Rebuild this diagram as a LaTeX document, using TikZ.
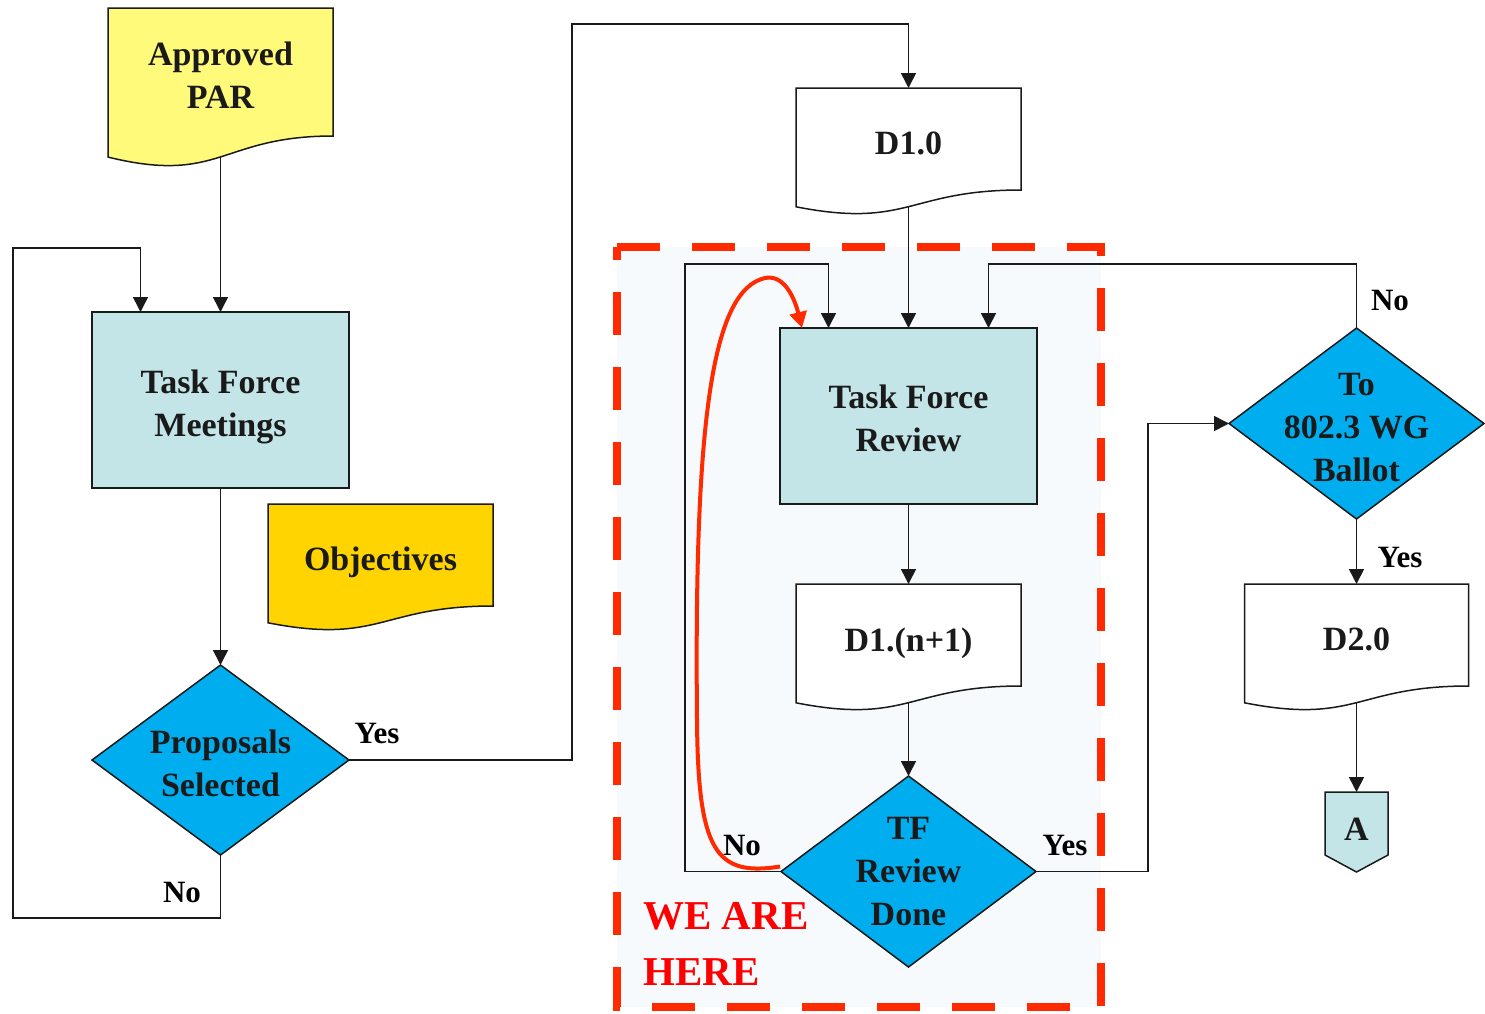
\documentclass[tikz,border=0pt]{standalone}
\usepackage{fontspec}
\setmainfont{Liberation Serif}
\usetikzlibrary{arrows.meta,calc}
\definecolor{parY}{HTML}{FFFA7A}
\definecolor{objY}{HTML}{FFD400}
\definecolor{tfteal}{HTML}{C4E5E8}
\definecolor{dblue}{HTML}{00AEEF}
\definecolor{hred}{HTML}{FF2A00}
\definecolor{hereRed}{HTML}{FF0000}
\definecolor{bgpale}{HTML}{F6FAFC}
\definecolor{ink}{HTML}{1A1A1A}
\newcommand\docshape[6]{% name, x0, ytop, W, h, fill
  \path[draw=ink, line width=1.5pt, fill=#6] (#2,#3) -- (#2+#4,#3) -- (#2+#4,#3+#5)
    .. controls (#2+0.5*#4,#3+#5) and (#2+0.5*#4,#3+1.381*#5) .. (#2,#3+1.1646*#5) -- cycle;
  \coordinate (#1-w) at (#2+0.5*#4,#3+1.1635*#5);}
\newcommand\diamshape[5]{% cx, cy, W, H, fill
  \path[draw=ink, line width=1.5pt, fill=#5] (#1-0.5*#3,#2) -- (#1,#2-0.5*#4) -- (#1+0.5*#3,#2) -- (#1,#2+0.5*#4) -- cycle;}
\newcommand\lowr[1]{\rule{0pt}{#1pt}}
\tikzset{
  lbl/.style={font=\bfseries\fontsize{34}{43}\selectfont, text=ink, align=center, inner sep=0pt, outer sep=0pt},
  sized/.style 2 args={minimum width=#1pt, minimum height=#2pt},
  procbox/.style={lbl, draw=ink, line width=1.5pt, fill=tfteal, minimum width=257pt, minimum height=176pt},
  conn/.style={draw=ink, line width=1.5pt, -{Triangle[width=15pt,length=15pt]}},
  ans/.style={font=\bfseries\fontsize{31}{36}\selectfont, text=black, inner sep=0pt},
}
\begin{document}
\begin{tikzpicture}[x=1pt,y=-1pt]
\useasboundingbox (0,0) rectangle (1485,1013);
% highlighted region
\fill[bgpale] (617,247) rectangle (1101,1007);
\draw[hred, line width=8pt, dash pattern=on 43pt off 32pt] (617,247) -- (1101,247) -- (1101,1007) -- (617,1007) -- cycle;
% shapes
\docshape{par}{108}{8}{225}{128}{parY}
\docshape{obj}{268}{504}{225}{102}{objY}
\docshape{d10}{796}{88}{225}{102}{white}
\docshape{d1n}{796}{584}{225}{102}{white}
\docshape{d20}{1244.5}{584}{224}{102}{white}
\diamshape{220.5}{760}{257}{190}{dblue}
\diamshape{908.5}{871.5}{255}{191}{dblue}
\diamshape{1356.5}{423.5}{255}{191}{dblue}
\path[draw=ink, line width=1.5pt, fill=tfteal] (1325,792) -- (1388,792) -- (1388,855) -- (1356.5,872) -- (1325,855) -- cycle;
% nodes
\node[lbl, sized={225}{128}] (par) at (220.5,72) {\lowr{29}Approved\\PAR};
\node[procbox] (tfm) at (220.5,400) {\lowr{37}Task Force\\Meetings};
\node[lbl, sized={225}{102}] (obj) at (380.5,555) {\lowr{39}Objectives};
\node[lbl, sized={257}{190}] (ps) at (220.5,760) {\lowr{30}Proposals\\Selected};
\node[lbl, sized={225}{102}] (d10) at (908.5,139) {\lowr{31}D1.0};
\node[procbox] (tfr) at (908.5,416) {\lowr{29}Task Force\\Review};
\node[lbl, sized={225}{102}] (d1n) at (908.5,635) {\lowr{41}D1.(n+1)};
\node[lbl, sized={255}{191}] (tfrd) at (908.5,871.5) {TF\\Review\\Done};
\node[lbl, sized={255}{191}] (wgb) at (1356.5,423.5) {\lowr{30}To\\802.3 WG\\Ballot};
\node[lbl, sized={224}{102}] (d20) at (1356.5,635) {\lowr{31}D2.0};
\node[lbl, sized={63}{63}] (A) at (1356.5,823.5) {\lowr{33}A};
% connectors
\draw[conn] (par-w) -- (tfm.north);
\draw[conn] (tfm.south) -- (ps.north);
\draw[conn] (ps.east) -| (572,24) -| (d10.north);
\draw[conn] (ps.south) -- (220.5,918) -| (13,248) -| ($(tfm.north)+(-80,0)$);
\draw[conn] (d10-w) -- (tfr.north);
\draw[conn] (tfr.south) -- (d1n.north);
\draw[conn] (d1n-w) -- (tfrd.north);
\draw[conn] (tfrd.west) -| (685,264) -| ($(tfr.north)+(-80,0)$);
\draw[conn] (tfrd.east) -| (1148,423.5) -- (wgb.west);
\draw[conn] (wgb.north) -- (1356.5,264) -| ($(tfr.north)+(80,0)$);
\draw[conn] (wgb.south) -- (d20.north);
\draw[conn] (d20-w) -- (A.north);
% red loop arrow
\draw[hred, line width=4pt, -{Triangle[width=17pt,length=16pt]}] ($(tfrd.west)+(-1,-5)$) .. controls (715,877) and (698,850) .. (697,720) .. controls (694,420) and (712,290) .. (765,278) .. controls (785,274) and (795,300) .. ($(tfr.north west)+(22,0)$);
% labels
\node[ans] (yes1) at (377,733) {Yes};
\node[ans] (no1) at (182,892) {No};
\node[ans] (no2) at (1390,300) {No};
\node[ans] (no3) at (742,845) {No};
\node[ans] (yes2) at (1065,845) {Yes};
\node[ans] (yes3) at (1400,557) {Yes};
\node[font=\bfseries\fontsize{41}{56}\selectfont, text=hereRed, align=left, anchor=north west, inner sep=0pt] (here) at (643,902) {WE ARE\\HERE};
\end{tikzpicture}
\end{document}
